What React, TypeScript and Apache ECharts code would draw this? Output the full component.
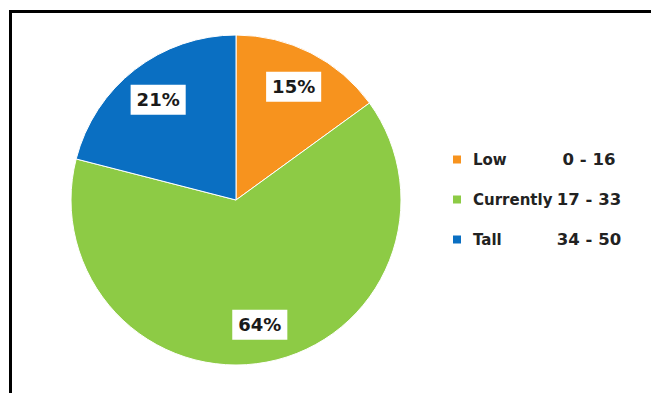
import React, { useEffect, useRef } from "react";
import * as echarts from "echarts";

const categories = ["Low", "Currently", "Tall"];
const ranges = ["0 - 16", "17 - 33", "34 - 50"];
const shares = [15, 64, 21];
const colors = ["#F7931E", "#8DCB45", "#0A6FC2"];

export default function App() {
  const ref = useRef<HTMLDivElement>(null);
  useEffect(() => {
    if (!ref.current) return;
    const chart = echarts.init(ref.current, undefined, { renderer: "svg" });
    const font = "DejaVu Sans";
    const data = categories.map((name, i) => ({
      name,
      value: shares[i],
      itemStyle: { color: colors[i] },
    }));
    chart.setOption({
      animation: false,
      backgroundColor: "#fff",
      graphic: [
        {
          type: "polyline",
          shape: { points: [[10.5, 393], [10.5, 11.5], [651, 11.5]] },
          style: { stroke: "#000", lineWidth: 3, fill: "none" },
          z: 100,
        },
      ],
      legend: {
        orient: "vertical",
        left: 446,
        top: 146,
        itemWidth: 10,
        itemHeight: 10,
        itemGap: 23,
        icon: "rect",
        selectedMode: false,
        data: categories.map((name, i) => ({ name, itemStyle: { color: colors[i] } })),
        formatter: (name: string) => {
          const i = categories.indexOf(name);
          return `{n|${name}}{v|${ranges[i]}}`;
        },
        textStyle: {
          padding: [0, 0, 0, 6],
          rich: {
            n: { fontFamily: font, fontWeight: "bold", fontSize: 15, lineHeight: 18, color: "#222", width: 80 },
            v: { fontFamily: font, fontWeight: "bold", fontSize: 16.5, lineHeight: 18, color: "#222", width: 72, align: "center" },
          },
        },
      },
      series: [
        {
          type: "pie",
          center: [236, 200],
          radius: 165,
          startAngle: 90,
          clockwise: true,
          silent: true,
          data,
          label: { show: false },
          labelLine: { show: false },
          itemStyle: { borderColor: "#fff", borderWidth: 1 },
          emphasis: { disabled: true },
        },
        {
          type: "pie",
          center: [236, 200],
          radius: 248,
          startAngle: 90,
          clockwise: true,
          silent: true,
          data: data.map((d) => ({ name: d.name, value: d.value })),
          itemStyle: { color: "transparent", borderWidth: 0 },
          labelLine: { show: false },
          emphasis: { disabled: true },
          label: {
            show: true,
            position: "inside",
            formatter: (p: any) => `${p.value}%`,
            fontFamily: font,
            fontWeight: "bold",
            fontSize: 18,
            color: "#1a1a1a",
            backgroundColor: "#fff",
            padding: [7, 6, 5, 6],
          },
        },
      ],
    });
    return () => chart.dispose();
  }, []);
  return (
    <div
      ref={ref}
      style={{ position: "fixed", left: 0, top: 0, width: 651, height: 393 }}
    />
  );
}
